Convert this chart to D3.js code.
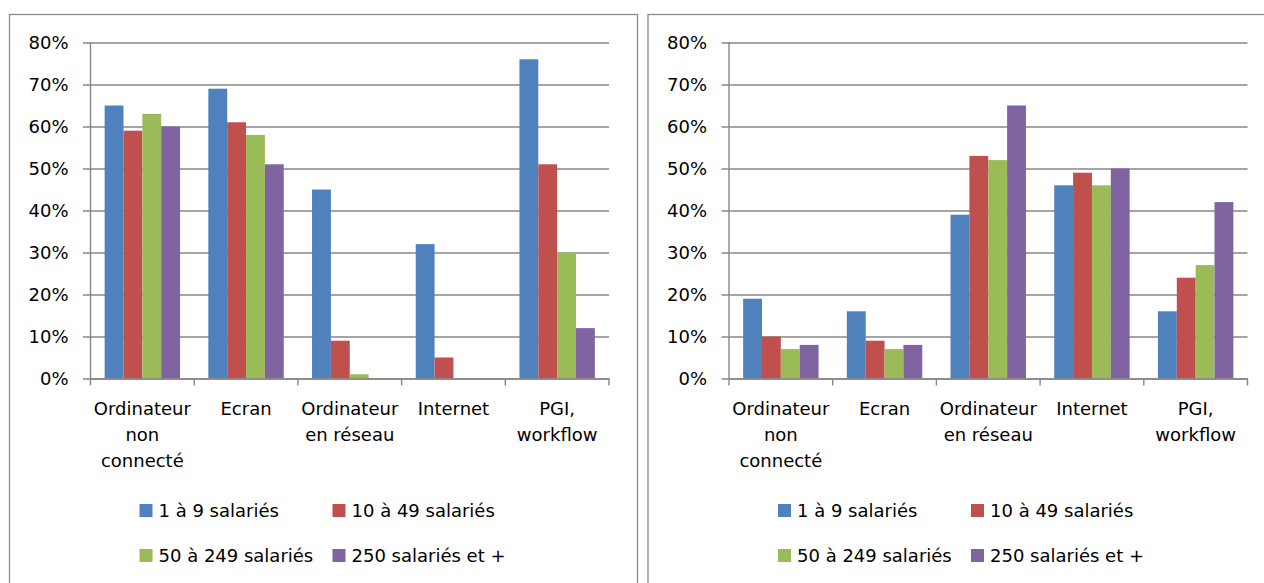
<!DOCTYPE html>
<html>
<head>
<meta charset="utf-8">
<script src="https://cdn.jsdelivr.net/npm/d3@7"></script>
<style>
  html, body { margin: 0; padding: 0; background: #fff; }
  svg { display: block; font-family: "DejaVu Sans", sans-serif; }
</style>
</head>
<body>
<svg id="chart" width="1264" height="583"></svg>
<script>
// Categories (multi-line labels) and size classes
const categories = ["Ordinateur non connecté", "Ecran", "Ordinateur en réseau", "Internet", "PGI, workflow"];
const categoryLines = [["Ordinateur", "non", "connecté"], ["Ecran"], ["Ordinateur", "en réseau"], ["Internet"], ["PGI,", "workflow"]];
const seriesNames = ["1 à 9 salariés", "10 à 49 salariés", "50 à 249 salariés", "250 salariés et +"];
const seriesColors = ["#4F81BD", "#C0504D", "#9BBB59", "#8064A2"];
const yTicks = [0, 0.1, 0.2, 0.3, 0.4, 0.5, 0.6, 0.7, 0.8];

// Left chart: share per category, one array per size class
const leftSmall  = [0.65, 0.69, 0.45, 0.32, 0.76];
const leftMid    = [0.59, 0.61, 0.09, 0.05, 0.51];
const leftLarge  = [0.63, 0.58, 0.01, 0.00, 0.30];
const leftHuge   = [0.60, 0.51, 0.00, 0.00, 0.12];

// Right chart
const rightSmall = [0.19, 0.16, 0.39, 0.46, 0.16];
const rightMid   = [0.10, 0.09, 0.53, 0.49, 0.24];
const rightLarge = [0.07, 0.07, 0.52, 0.46, 0.27];
const rightHuge  = [0.08, 0.08, 0.65, 0.50, 0.42];

const svg = d3.select("#chart");
const gridColor = "#878787";

function drawPanel(offsetX, seriesValues) {
  const g = svg.append("g").attr("transform", `translate(${offsetX},0)`);

  // panel frame
  g.append("rect")
    .attr("x", 9.5).attr("y", 14.5)
    .attr("width", 628).attr("height", 620)
    .attr("fill", "#fff")
    .attr("stroke", "#8a8a8a").attr("stroke-width", 1.3);

  const plotLeft = 90.5, plotRight = 609, plotTop = 42.5, plotBottom = 378.5;

  const x = d3.scaleBand().domain(categories).range([plotLeft, plotRight]).padding(0);
  const step = x.bandwidth();
  const groupW = step * 4 / 5.5; // gap width 150 %
  const xs = d3.scaleBand().domain(seriesNames)
    .range([(step - groupW) / 2, (step + groupW) / 2]).padding(0);
  const y = d3.scaleLinear().domain([0, 0.8]).range([plotBottom, plotTop]);

  // horizontal gridlines + y ticks
  const yAxis = d3.axisLeft(y).tickValues(yTicks)
    .tickFormat(d3.format(".0%"))
    .tickSize(-(plotRight - plotLeft)).tickSizeOuter(0).tickPadding(22);
  const ya = g.append("g").attr("transform", `translate(${plotLeft},0)`).call(yAxis);
  ya.select(".domain").remove();
  ya.selectAll(".tick line").attr("stroke", gridColor).attr("stroke-width", 1.4).attr("x1", -7.5);
  ya.selectAll(".tick text")
    .attr("font-size", 18).attr("fill", "#000")
    .attr("font-family", "DejaVu Sans, sans-serif")
    .attr("dy", "0.36em");

  // bars
  const series = seriesNames.map((name, i) => ({ name, color: seriesColors[i], values: seriesValues[i] }));
  series.forEach(s => {
    g.append("g").selectAll("rect")
      .data(s.values.map((v, j) => ({ cat: categories[j], v })))
      .join("rect")
      .attr("x", d => x(d.cat) + xs(s.name))
      .attr("width", xs.bandwidth())
      .attr("y", d => y(d.v))
      .attr("height", d => y(0) - y(d.v))
      .attr("fill", s.color);
  });

  // vertical axis line
  g.append("line")
    .attr("x1", plotLeft).attr("x2", plotLeft)
    .attr("y1", plotTop).attr("y2", plotBottom)
    .attr("stroke", gridColor).attr("stroke-width", 1.4);

  // category axis
  const xAxis = d3.axisBottom(x).tickSize(0).tickFormat("");
  const xa = g.append("g").attr("transform", `translate(0,${plotBottom})`).call(xAxis);
  xa.select(".domain").attr("stroke", gridColor).attr("stroke-width", 1.4);
  // category boundary ticks
  const bounds = categories.map(c => x(c)).concat([plotRight]);
  g.append("g").selectAll("line").data(bounds).join("line")
    .attr("x1", d => d).attr("x2", d => d)
    .attr("y1", plotBottom).attr("y2", plotBottom + 7)
    .attr("stroke", gridColor).attr("stroke-width", 1.4);

  // category labels
  categories.forEach((c, i) => {
    const t = g.append("text")
      .attr("x", x(c) + step / 2).attr("y", plotBottom + 36)
      .attr("text-anchor", "middle").attr("font-size", 18).attr("fill", "#000");
    categoryLines[i].forEach((ln, k) => {
      t.append("tspan").attr("x", x(c) + step / 2).attr("dy", k === 0 ? 0 : 26).text(ln);
    });
  });

  // legend (2 x 2)
  const legendPos = [[139.5, 504], [332.5, 504], [139.5, 549], [332.5, 549]];
  series.forEach((s, i) => {
    const [lx, ly] = legendPos[i];
    g.append("rect").attr("x", lx).attr("y", ly).attr("width", 13).attr("height", 13).attr("fill", s.color);
    g.append("text").attr("x", lx + 19).attr("y", ly + 12.5)
      .attr("font-size", 18).attr("fill", "#000").text(s.name);
  });
}

drawPanel(0, [leftSmall, leftMid, leftLarge, leftHuge]);
drawPanel(638.5, [rightSmall, rightMid, rightLarge, rightHuge]);
</script>
</body>
</html>
